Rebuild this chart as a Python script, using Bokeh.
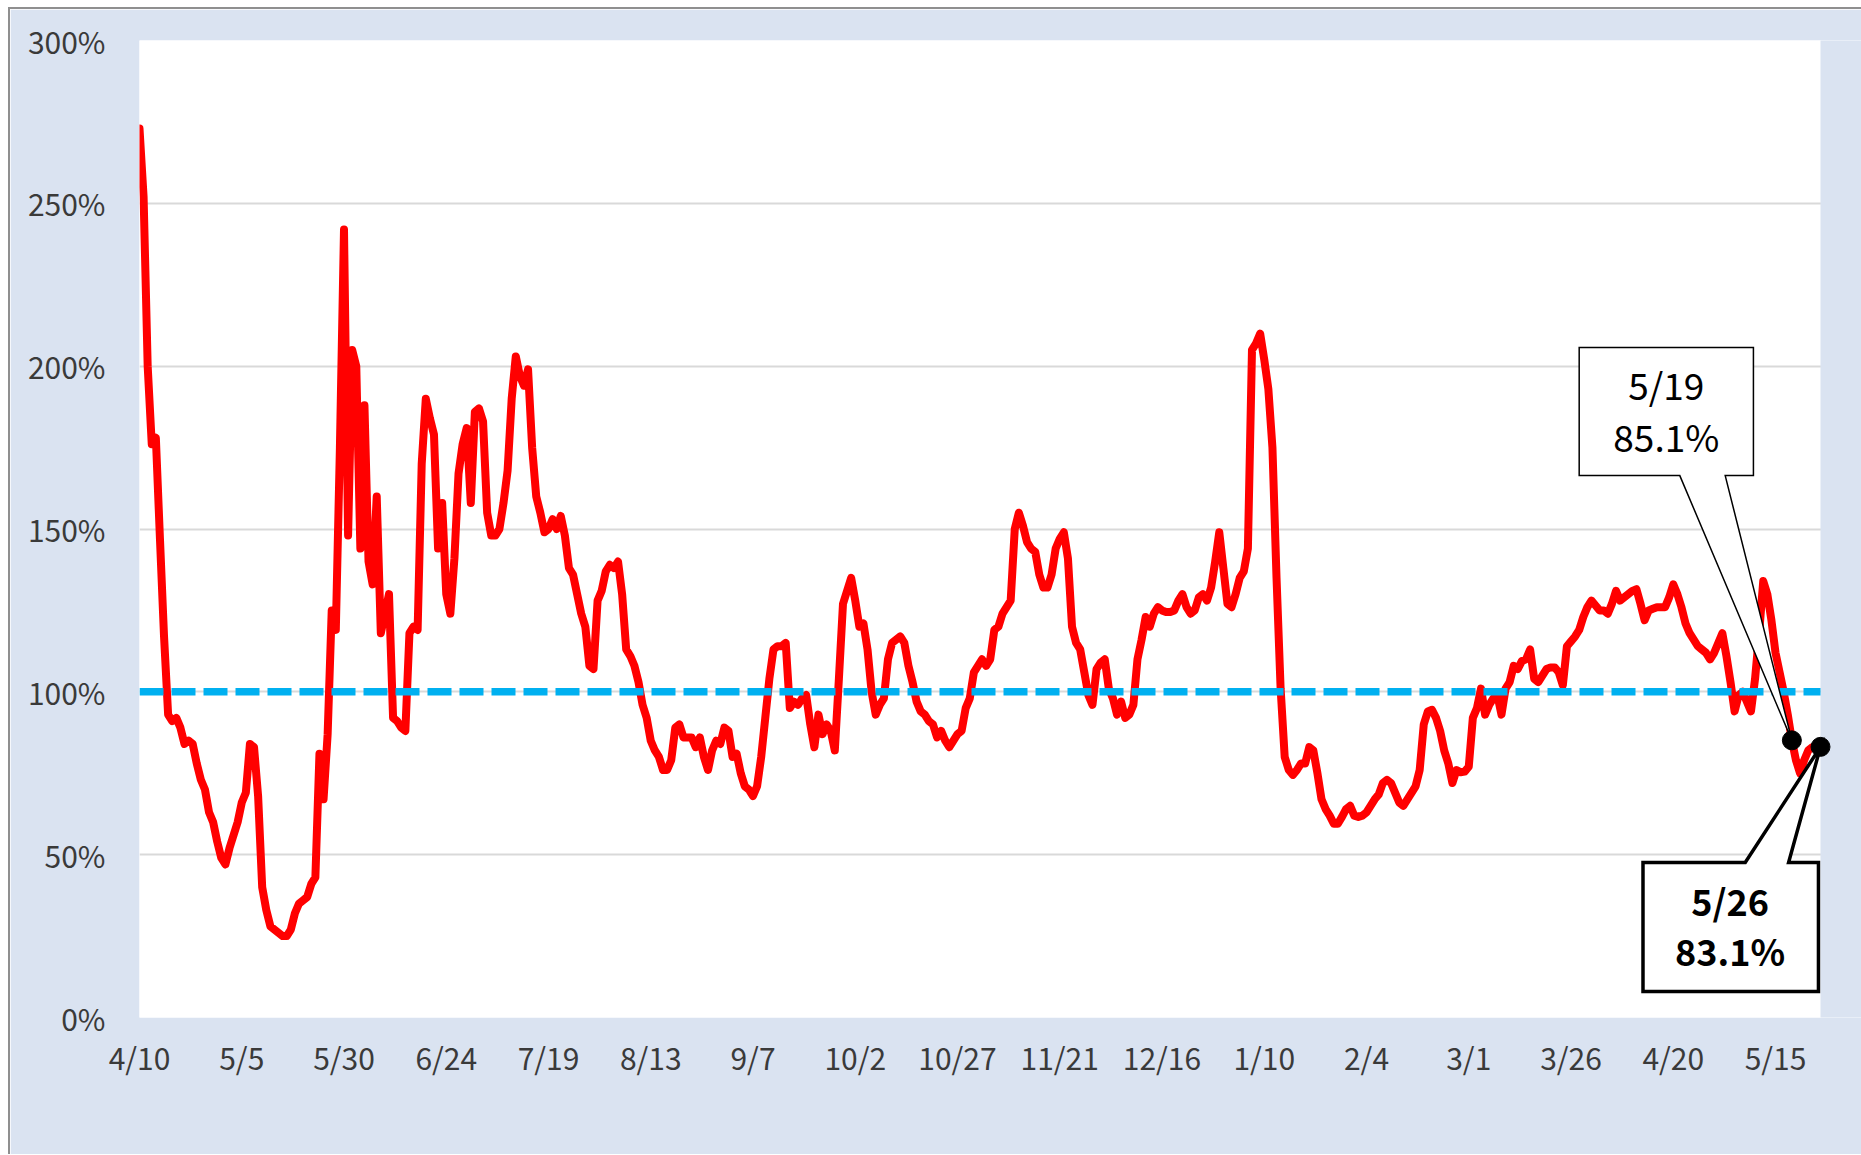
import pandas as pd
from bokeh.plotting import figure
from bokeh.models import Range1d, FixedTicker, Label, BoxAnnotation
from bokeh.embed import file_html
from bokeh.resources import INLINE

# ---- data ----
start_date = "2020-04-10"
rate = [
    273, 252, 200, 176, 178, 147, 117, 93, 91, 92,            # d0-9
    89, 84, 85, 84, 78, 73, 70, 63, 60, 54,                   # d10-19
    49, 47, 52, 56, 60, 66, 69, 84, 83, 68,                   # d20-29
    40, 33, 28, 27, 26, 25, 25, 27, 32, 35,                   # d30-39
    36, 37, 41, 43, 81, 67, 87, 125, 119, 175,                # d40-49
    242, 148, 205, 200, 144, 188, 140, 133, 160, 118,         # d50-59
    124, 130, 92, 91, 89, 88, 118, 120, 119, 170,             # d60-69
    190, 184, 179, 144, 158, 130, 124, 141, 167, 176,         # d70-79
    181, 158, 186, 187, 183, 155, 148, 148, 150, 158,         # d80-89
    168, 190, 203, 197, 194, 199, 175, 160, 155, 149,         # d90-99
    150, 153, 150, 154, 148, 138, 136, 130, 124, 120,         # d100-109
    108, 107, 128, 131, 137, 139, 138, 140, 130, 113,         # d110-119
    111, 108, 103, 96, 92, 85, 82, 80, 76, 76,                # d120-129
    79, 89, 90, 86, 86, 86, 83, 86, 80, 76,                   # d130-139
    82, 85, 84, 89, 88, 80, 81, 75, 71, 70,                   # d140-149
    68, 71, 80, 92, 104, 113, 114, 114, 115, 95,              # d150-159
    97, 96, 98, 99, 90, 83, 93, 87, 90, 88,                   # d160-169
    82, 104, 127, 131, 135, 128, 120, 121, 113, 100,          # d170-179
    93, 96, 98, 110, 115, 116, 117, 115, 108, 103,            # d180-189
    97, 94, 93, 91, 90, 86, 88, 85, 83, 85,                   # d190-199
    87, 88, 95, 98, 106, 108, 110, 108, 110, 119,             # d200-209
    120, 124, 126, 128, 150, 155, 151, 146, 144, 143,         # d210-219
    136, 132, 132, 136, 144, 147, 149, 141, 120, 115,         # d220-229
    113, 106, 99, 96, 107, 109, 110, 101, 98, 93,             # d230-239
    97, 92, 93, 96, 110, 116, 123, 120, 124, 126,             # d240-249
    125, 124.5, 124.5, 125, 128, 130, 126, 124, 125, 129,     # d250-259
    130, 128, 132, 140, 149, 138, 127, 126, 130, 135,         # d260-269
    137, 144, 205, 207, 210, 202, 193, 175, 135, 101,         # d270-279
    80, 76, 74.5, 76, 78, 78, 83, 82, 75, 67,                 # d280-289
    64, 62, 59.5, 59.5, 61.6, 64, 65, 62, 61.6, 62,           # d290-299
    63, 65, 67, 68.5, 72, 73, 72, 69, 66, 65,                 # d300-309
    67, 69, 71, 76, 90, 94, 94.5, 92, 88, 82,                 # d310-319
    78, 72, 76, 75.3, 75.5, 77, 92, 95, 101, 93,              # d320-329
    96, 98, 99, 93, 101, 103, 108, 107, 109.5, 110,           # d330-339
    113, 104, 103, 105, 107, 107.5, 107.5, 106, 102, 114,     # d340-349
    115.5, 117, 119, 123, 126, 128, 126.5, 125, 125, 124,     # d350-359
    127, 131, 128, 129, 130, 131, 131.5, 127, 122, 125,       # d360-369
    125.5, 126, 126, 126, 129, 133, 130, 126, 121, 118,       # d370-379
    116, 114, 113, 112, 110, 112, 115, 118, 111, 103,         # d380-389
    94, 99, 100, 97, 94, 104, 118, 134, 130, 122,             # d390-399
    112, 106, 100, 93, 85.1, 79, 75, 79, 82, 83,              # d400-409
    83, 83.1,                                                 # d410-411
]
threshold = 100
tick_every = 25
y_ticks = [0, 50, 100, 150, 200, 250, 300]
callout_dates = ["2021-05-19", "2021-05-26"]

dates = pd.date_range(start_date, periods=len(rate), freq="D")
labels = [f"{d.month}/{d.day}" for d in dates]
xs = list(range(len(rate)))
n_last = len(rate) - 1

FONT = "Noto Sans CJK JP"
BG = "#DAE3F1"
PLOT_W = 1681          # pixel width of the white plot area (first..last day)
RIGHT_PAD = 41         # blue margin to the right of the plot area
FRAME_H = 977
Y_MAX = 300

# frame is extended over the right margin so the last marker is not clipped;
# that extra strip is painted with the background colour below.
p = figure(
    frame_width=PLOT_W + RIGHT_PAD, frame_height=FRAME_H,
    min_border_left=129, min_border_right=0,
    min_border_top=31, min_border_bottom=137,
    x_range=Range1d(0, n_last * (PLOT_W + RIGHT_PAD) / PLOT_W), y_range=Range1d(0, Y_MAX),
    output_backend="svg", toolbar_location=None,
    background_fill_color="white", border_fill_color=BG,
    outline_line_color=None,
)
p.styles = {"margin-left": "8px", "margin-top": "7px",
            "border-left": "2px solid #8f8f8f", "border-top": "2px solid #8f8f8f"}

# axes
x_ticks = list(range(0, len(rate), tick_every))
p.xaxis.ticker = FixedTicker(ticks=x_ticks)
p.xaxis.major_label_overrides = {i: labels[i] for i in x_ticks}
p.yaxis.ticker = FixedTicker(ticks=y_ticks)
p.yaxis.major_label_overrides = {v: f"{v}%" for v in y_ticks}
for ax in (p.xaxis, p.yaxis):
    ax.axis_line_color = None
    ax.major_tick_line_color = None
    ax.minor_tick_line_color = None
    ax.major_label_text_font = FONT
    ax.major_label_text_font_size = "30px"
    ax.major_label_text_color = "#3a3a3a"
p.xaxis.major_label_standoff = 11
p.yaxis.major_label_standoff = 28

p.xgrid.visible = False
p.ygrid.grid_line_color = "#D9D9D9"
p.ygrid.grid_line_width = 2

# blue strip right of the last day (covers grid lines there)
p.add_layout(BoxAnnotation(left=n_last, bottom=-8, top=Y_MAX + 8, fill_color=BG,
                           fill_alpha=1.0, line_color=None, level="underlay"))

# series
p.line(xs, rate, line_color="#FF0000", line_width=8, line_join="round", line_cap="round")
p.line([0, n_last], [threshold, threshold], line_color="#00B0F0", line_width=7.5, line_dash="24 8")

# callouts
i1 = int(dates.get_loc(pd.Timestamp(callout_dates[0])))
i2 = int(dates.get_loc(pd.Timestamp(callout_dates[1])))
x1, y1 = i1, rate[i1]
x2, y2 = i2, rate[i2]

# 5/19 box above-left, wedge pointing down to the point
L, R, T, B = x1 - 52, x1 - 9.4, y1 + 120.6, y1 + 81.3
wl, wr = x1 - 27.4, x1 - 16.3
p.patch([L, R, R, wr, x1, wl, L], [T, T, B, B, y1, B, B],
        fill_color="white", line_color="black", line_width=1.5, line_join="miter")

# 5/26 box below-left, wedge pointing up to the point
L2, R2, T2, B2 = x2 - 43.4, x2 - 0.5, y2 - 35.5, y2 - 75.1
wl2, wr2 = x2 - 18.4, x2 - 7.8
p.patch([L2, R2, R2, wr2, x2, wl2, L2], [B2, B2, T2, T2, y2, T2, T2],
        fill_color="white", line_color="black", line_width=3.5, line_join="miter")

p.scatter([x1, x2], [y1, y2], size=19, color="black")

p.add_layout(Label(x=x1 - 30.7, y=y1 + 109.5, text=labels[i1], text_align="center",
                   text_baseline="middle", text_font=FONT, text_font_size="37px", text_color="black"))
p.add_layout(Label(x=x1 - 30.7, y=y1 + 93.4, text=f"{rate[i1]:.1f}%", text_align="center",
                   text_baseline="middle", text_font=FONT, text_font_size="37px", text_color="black"))
p.add_layout(Label(x=x2 - 22.1, y=y2 - 46.9, text=labels[i2], text_align="center",
                   text_baseline="middle", text_font=FONT, text_font_size="36px",
                   text_font_style="bold", text_color="black"))
p.add_layout(Label(x=x2 - 22.1, y=y2 - 62.5, text=f"{rate[i2]:.1f}%", text_align="center",
                   text_baseline="middle", text_font=FONT, text_font_size="36px",
                   text_font_style="bold", text_color="black"))

open("out.html", "w").write(file_html(p, INLINE))
